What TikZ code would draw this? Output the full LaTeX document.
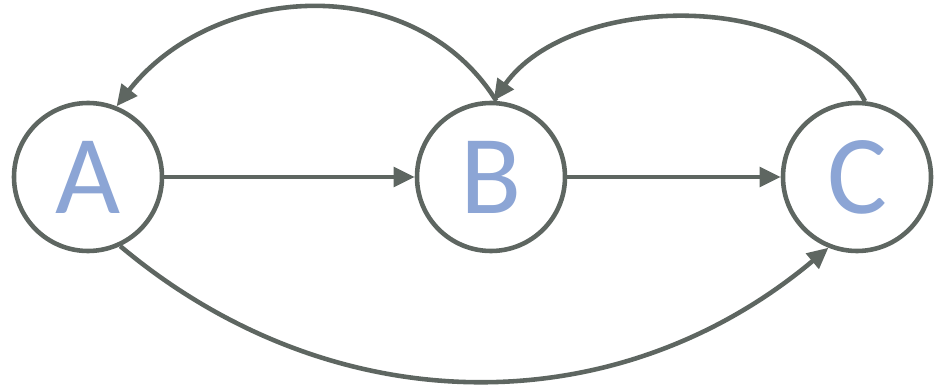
\documentclass[tikz,border=0pt]{standalone}
\usepackage{fontspec}
\setmainfont{Carlito}
\usetikzlibrary{arrows.meta}
\definecolor{EdgeGray}{HTML}{5E6661}
\definecolor{LetterBlue}{HTML}{8CA5D5}

\begin{document}
\begin{tikzpicture}[
    state/.style={circle, draw=EdgeGray, line width=2.6pt, fill=white, minimum size=2.96cm, inner sep=0pt, text=LetterBlue, font=\fontsize{64}{64}\selectfont},
    arrow/.style={-{Triangle[length=12pt, width=11pt]}, line width=2.6pt, draw=EdgeGray}
  ]
    \useasboundingbox (0,0) rectangle (18.7,7.82);
    \node[state] (A) at (1.76,4.28) {A};
    \node[state] (B) at (9.82,4.28) {B};
    \node[state] (C) at (17.14,4.28) {C};
    \draw[arrow] (A) -- (B);
    \draw[arrow] (B) -- (C);
    \draw[arrow] (B.86) to[out=122, in=52, looseness=1.05] (A.68);
    \draw[arrow] (C.84) to[out=118, in=55, looseness=0.9] (B.88);
    \draw[arrow] (A.-65) to[out=-40, in=-140] (C.-112);
  \end{tikzpicture}
\end{document}
